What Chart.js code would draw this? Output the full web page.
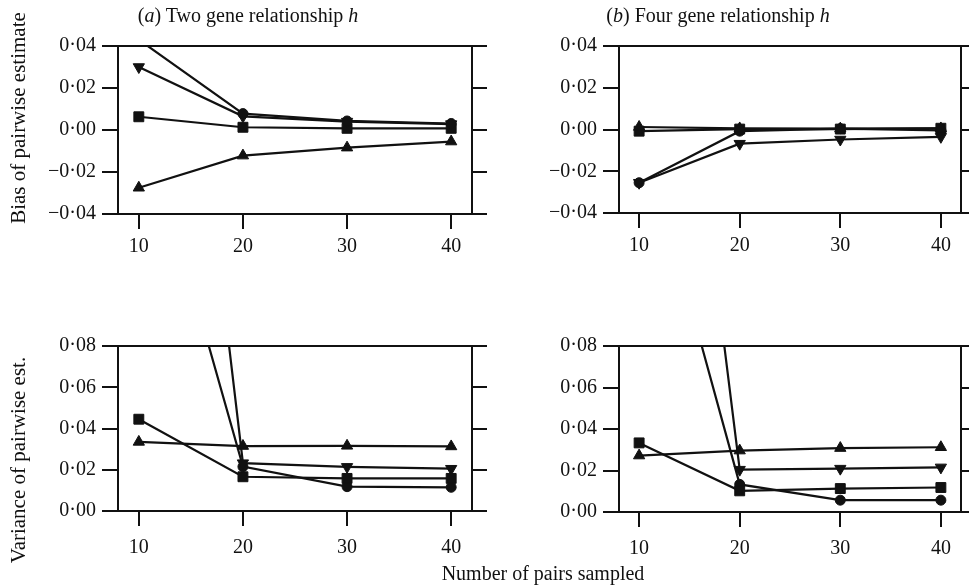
<!DOCTYPE html>
<html><head><meta charset="utf-8">
<script src="https://cdn.jsdelivr.net/npm/chart.js@4/dist/chart.umd.min.js"></script>
<style>
body{margin:0;width:969px;height:587px;background:#fff;position:relative;overflow:hidden;font-family:"Liberation Serif","Times New Roman",serif;color:#111}
canvas{position:absolute;left:0;top:0}
.t{position:absolute;white-space:nowrap;font-size:20px;line-height:1;transform:translate(-50%,-50%)}
.r{transform:translate(-50%,-50%) rotate(-90deg);font-size:21px}
</style></head><body>
<canvas id="c1" width="969" height="587"></canvas>
<canvas id="c2" width="969" height="587"></canvas>
<canvas id="c3" width="969" height="587"></canvas>
<canvas id="c4" width="969" height="587"></canvas>
<div class="t" style="left:248px;top:15px">(<i>a</i>) Two gene relationship <i>h</i></div>
<div class="t" style="left:718px;top:15px">(<i>b</i>) Four gene relationship <i>h</i></div>
<div class="t r" style="left:18px;top:118px">Bias of pairwise estimate</div>
<div class="t r" style="left:18px;top:460px">Variance of pairwise est.</div>
<div class="t" style="left:543px;top:573px">Number of pairs sampled</div>
<script>
// ---- data ----
const sampleSizes = [10, 20, 30, 40];
const xTicks = [10, 20, 30, 40];
const biasTicks = [-0.04, -0.02, 0, 0.02, 0.04];
const biasTickLabels = ['\u22120\u00b704', '\u22120\u00b702', '0\u00b700', '0\u00b702', '0\u00b704'];
const varTicks = [0, 0.02, 0.04, 0.06, 0.08];
const varTickLabels = ['0\u00b700', '0\u00b702', '0\u00b704', '0\u00b706', '0\u00b708'];

// (a) two gene, bias
const biasTwoCircle = [0.043, 0.0078, 0.0043, 0.0031];
const biasTwoDown = [0.0300, 0.0065, 0.0040, 0.0028];
const biasTwoSquare = [0.0063, 0.0013, 0.0008, 0.0008];
const biasTwoUp = [-0.0275, -0.0122, -0.0084, -0.0055];
// (b) four gene, bias
const biasFourUp = [0.0012, 0.0005, 0.0004, 0.0005];
const biasFourSquare = [-0.0008, 0.0002, 0.0002, 0.0006];
const biasFourCircle = [-0.0255, -0.0008, 0.0004, -0.0004];
const biasFourDown = [-0.0255, -0.0068, -0.0048, -0.0035];
// (a) two gene, variance
const varTwoSquare = [0.0445, 0.0166, 0.0158, 0.0158];
const varTwoUp = [0.0335, 0.0315, 0.0316, 0.0313];
const varTwoDown = [0.45, 0.0232, 0.0214, 0.0205];
const varTwoCircle = [0.20, 0.0215, 0.0118, 0.0115];
// (b) four gene, variance
const varFourSquare = [0.0333, 0.0102, 0.0113, 0.0118];
const varFourUp = [0.0272, 0.0296, 0.0308, 0.0312];
const varFourDown = [0.41, 0.0204, 0.0209, 0.0215];
const varFourCircle = [0.19, 0.0133, 0.0057, 0.0057];

// ---- drawing ----
const INK = '#111';
const FONT = {family: '"Liberation Serif","Times New Roman",serif', size: 20};
const marker = {
  circle: {pointStyle: 'circle', pointRadius: 5, pointRotation: 0},
  square: {pointStyle: 'rect', pointRadius: 7, pointRotation: 0},
  up: {pointStyle: 'triangle', pointRadius: 6.5, pointRotation: 0},
  down: {pointStyle: 'triangle', pointRadius: 6.5, pointRotation: 180}
};
function ds(values, kind) {
  return Object.assign({
    data: sampleSizes.map((x, i) => ({x: x, y: values[i]})),
    borderColor: INK, borderWidth: 2.2, backgroundColor: INK,
    pointBackgroundColor: INK, pointBorderColor: INK, pointBorderWidth: 1,
    tension: 0, clip: 0
  }, marker[kind]);
}
function fixW(w) { return s => { s.width = w; }; }
function fixH(h) { return s => { s.height = h; }; }

function panel(id, box, series, yTicks, yLabels) {
  const LW = 70, RW = 16, BH = 44;
  const yMin = yTicks[0], yMax = yTicks[yTicks.length - 1];
  const setY = s => { s.ticks = yTicks.map(v => ({value: v})); };
  new Chart(document.getElementById(id), {
    type: 'line',
    data: {datasets: series},
    options: {
      responsive: false, animation: false, events: [],
      layout: {padding: {left: box.l - LW, right: 969 - box.r - RW, top: box.t, bottom: 587 - box.b - BH}},
      plugins: {legend: {display: false}, tooltip: {enabled: false}},
      scales: {
        x: {
          type: 'linear', position: 'bottom', min: 8, max: 42,
          afterBuildTicks: s => { s.ticks = xTicks.map(v => ({value: v})); },
          afterFit: fixH(BH),
          ticks: {color: INK, font: FONT, padding: box.xpad, maxRotation: 0, callback: v => String(v)},
          grid: {drawOnChartArea: false, drawTicks: true, tickLength: 15, color: INK, lineWidth: 2},
          border: {display: true, color: INK, width: 2}
        },
        xTop: {
          type: 'linear', position: 'top', min: 8, max: 42,
          afterFit: fixH(0),
          ticks: {display: false},
          grid: {drawOnChartArea: false, drawTicks: false},
          border: {display: true, color: INK, width: 2}
        },
        y: {
          type: 'linear', position: 'left', min: yMin, max: yMax,
          afterBuildTicks: setY, afterFit: fixW(LW),
          ticks: {color: INK, font: FONT, padding: 6, callback: v => yLabels[yTicks.indexOf(v)]},
          grid: {drawOnChartArea: false, drawTicks: true, tickLength: 16, color: INK, lineWidth: 2},
          border: {display: true, color: INK, width: 2}
        },
        yRight: {
          type: 'linear', position: 'right', min: yMin, max: yMax,
          afterBuildTicks: setY, afterFit: fixW(RW),
          ticks: {display: false},
          grid: {drawOnChartArea: false, drawTicks: true, tickLength: 15, color: INK, lineWidth: 2},
          border: {display: true, color: INK, width: 2}
        }
      }
    }
  });
}

panel('c1', {l: 118, r: 472, t: 46, b: 214, xpad: 6},
  [ds(biasTwoCircle, 'circle'), ds(biasTwoDown, 'down'), ds(biasTwoSquare, 'square'), ds(biasTwoUp, 'up')],
  biasTicks, biasTickLabels);
panel('c2', {l: 619, r: 963, t: 46, b: 213, xpad: 6},
  [ds(biasFourUp, 'up'), ds(biasFourSquare, 'square'), ds(biasFourCircle, 'circle'), ds(biasFourDown, 'down')],
  biasTicks, biasTickLabels);
panel('c3', {l: 118, r: 472, t: 346, b: 511, xpad: 10},
  [ds(varTwoSquare, 'square'), ds(varTwoUp, 'up'), ds(varTwoDown, 'down'), ds(varTwoCircle, 'circle')],
  varTicks, varTickLabels);
panel('c4', {l: 619, r: 963, t: 346, b: 512, xpad: 10},
  [ds(varFourSquare, 'square'), ds(varFourUp, 'up'), ds(varFourDown, 'down'), ds(varFourCircle, 'circle')],
  varTicks, varTickLabels);
</script>
</body></html>
